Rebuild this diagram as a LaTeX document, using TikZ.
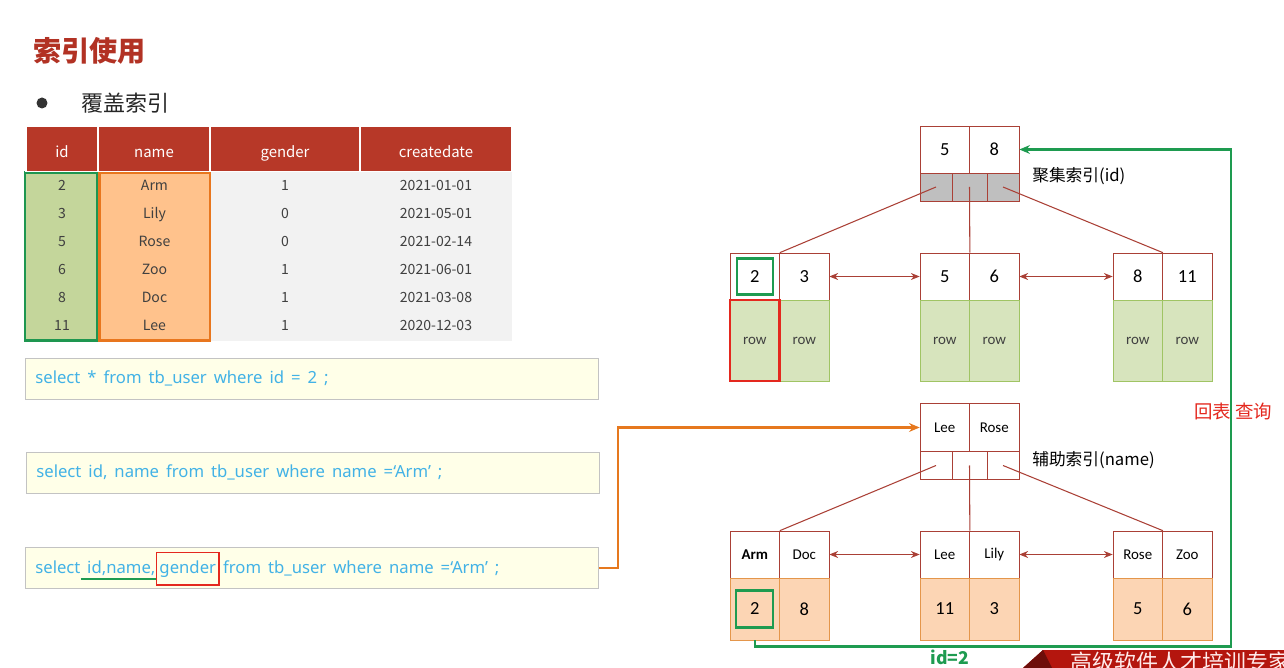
\documentclass[tikz,border=0pt]{standalone}
\usepackage{fontspec}
\setmainfont{Noto Sans CJK SC}
\newfontfamily\calfont{Carlito}
\newfontfamily\sqlfont[WordSpace=1.6]{Noto Sans}
\usetikzlibrary{arrows.meta,positioning}
\definecolor{TitleRed}{RGB}{178,50,36}
\definecolor{HeadRed}{RGB}{183,56,40}
\definecolor{BodyGrey}{RGB}{242,242,242}
\definecolor{TextGrey}{RGB}{64,64,64}
\definecolor{IdFill}{RGB}{196,214,155}
\definecolor{IdEdge}{RGB}{30,150,80}
\definecolor{NameFill}{RGB}{255,194,140}
\definecolor{NameEdge}{RGB}{232,118,30}
\definecolor{SqlFill}{RGB}{255,255,232}
\definecolor{SqlEdge}{RGB}{195,195,195}
\definecolor{SqlBlue}{RGB}{66,178,230}
\definecolor{TreeRed}{RGB}{170,64,54}
\definecolor{PtrGrey}{RGB}{191,191,191}
\definecolor{RowFill}{RGB}{215,228,189}
\definecolor{RowEdge}{RGB}{160,196,100}
\definecolor{ValFill}{RGB}{252,213,180}
\definecolor{ValEdge}{RGB}{228,150,75}
\definecolor{PathGreen}{RGB}{30,155,80}
\definecolor{PathOrange}{RGB}{230,120,30}
\definecolor{MarkRed}{RGB}{228,40,30}
\definecolor{BannerRed}{RGB}{180,22,14}
\definecolor{BannerDark}{RGB}{110,14,10}

\begin{document}
\begin{tikzpicture}[x=0.02cm,y=-0.02cm,
    hd/.style={fill=HeadRed,draw=white,line width=1pt,text=white,
               minimum height=0.9cm,inner sep=0pt,text height=9.5pt,text depth=0pt,
               font=\fontsize{8.5}{10}\selectfont},
    tcell/.style={anchor=base,text=TextGrey,inner sep=0pt,font=\fontsize{8}{10}\selectfont},
    sqlbox/.style={draw=SqlEdge,fill=SqlFill,minimum width=11.46cm,
                   minimum height=0.82cm,inner sep=0pt},
    sqltxt/.style={text=SqlBlue,inner sep=0pt,font=\sqlfont\fontsize{9.5}{11}\selectfont},
    idxkey/.style={draw=TreeRed,fill=white,minimum width=0.99cm,minimum height=0.94cm,
                   inner sep=0pt,font=\calfont\fontsize{10.5}{12}\selectfont},
    namekey/.style={idxkey,font=\calfont\fontsize{8.5}{10}\selectfont},
    ptr/.style={draw=TreeRed,minimum height=0.56cm,inner sep=0pt},
    rowc/.style={draw=RowEdge,fill=RowFill,minimum width=0.99cm,minimum height=1.62cm,
                 inner sep=0pt,text=TextGrey,font=\calfont\fontsize{8.5}{10}\selectfont},
    valc/.style={draw=ValEdge,fill=ValFill,minimum width=0.99cm,minimum height=1.24cm,
                 inner sep=0pt,font=\calfont\fontsize{10.5}{12}\selectfont},
    gbox/.style={draw=PathGreen,line width=1.2pt,minimum size=0.72cm,inner sep=0pt},
    link/.style={TreeRed,semithick},
    dbl/.style={TreeRed,semithick,{Stealth[length=5pt,width=4pt]}-{Stealth[length=5pt,width=4pt]}},
    lbl/.style={anchor=west,inner sep=0pt,font=\fontsize{9.5}{11}\selectfont}
  ]
  \useasboundingbox (0,0) rectangle (1284,668);
  \fill[white] (0,0) rectangle (1284,668);

  % heading
  \node[anchor=west,text=TitleRed,font=\fontsize{16}{18}\selectfont\bfseries] (title) at (27,51) {索引使用};
  \node[circle,fill=black!80,minimum size=0.22cm,inner sep=0pt] (dot) at (42,103) {};
  \node[anchor=west,text=black!85,font=\fontsize{12.5}{15}\selectfont] (sub) at (75,103) {覆盖索引};

  % table tb_user
  \fill[BodyGrey] (210,172) rectangle (512,341);
  \draw[IdEdge,line width=1.2pt,fill=IdFill] (25,172.5) rectangle (97.5,340.5);
  \draw[NameEdge,line width=1.2pt,fill=NameFill] (99.5,172.5) rectangle (210,340.5);
  \node[hd,minimum width=1.43cm] (hid) at (62,149) {id};
  \node[hd,minimum width=2.24cm] (hname) at (154,149) {name};
  \node[hd,minimum width=3.0cm] (hgen) at (285,149) {gender};
  \node[hd,minimum width=3.04cm] (hdate) at (436,149) {createdate};
  \foreach \i/\a/\b/\c/\d in {1/2/Arm/1/2021-01-01,2/3/Lily/0/2021-05-01,
      3/5/Rose/0/2021-02-14,4/6/Zoo/1/2021-06-01,5/8/Doc/1/2021-03-08,6/11/Lee/1/2020-12-03}{
    \node[tcell] (id\i) at (62,{162.7+28*\i}) {\a};
    \node[tcell] (nm\i) at (154.5,{162.7+28*\i}) {\b};
    \node[tcell] (gd\i) at (285,{162.7+28*\i}) {\c};
    \node[tcell] (dt\i) at (436,{162.7+28*\i}) {\d};
  }

  % queries
  \node[sqlbox] (q1) at (311.5,378.5) {};
  \node[sqltxt,anchor=base west] (t1) at (35,383.5) {select * from tb\_user where id = 2 ;};
  \node[sqlbox] (q2) at (312.5,472.5) {};
  \node[sqltxt,anchor=base west] (t2) at (36,477.5) {select id, name from tb\_user where name =‘Arm’ ;};
  \node[sqlbox] (q3) at (312,568) {};
  \node[sqltxt,anchor=base west] (t3a) at (35,573) {select};
  \node[sqltxt,right=0.12cm of t3a.base east,anchor=base west] (t3b) {id,name,};
  \node[sqltxt,draw=MarkRed,thick,inner xsep=0.06cm,inner ysep=0.16cm,
        right=0pt of t3b.base east,anchor=base west] (t3c) {gender};
  \node[sqltxt,right=0.06cm of t3c.base east,anchor=base west] (t3d) {from tb\_user where name =‘Arm’ ;};
  \draw[PathGreen,line width=1.2pt] ([xshift=-0.12cm,yshift=-0.12cm]t3b.base west)
    -- ([yshift=-0.12cm]t3b.base east);

  % clustered index (id)
  \node[idxkey] (ca) at (944.75,149.5) {5};
  \node[idxkey] (cb) at (994.25,149.5) {8};
  \node[ptr,fill=PtrGrey,minimum width=0.64cm] (cp1) at (936,187) {};
  \node[ptr,fill=PtrGrey,minimum width=0.70cm] (cp2) at (969.5,187) {};
  \node[ptr,fill=PtrGrey,minimum width=0.64cm] (cp3) at (1003,187) {};
  \node[lbl] (clbl) at (1032,176) {聚集索引(id)};

  \node[idxkey] (l1a) at (754.75,276.5) {2};
  \node[idxkey] (l1b) at (804.25,276.5) {3};
  \node[idxkey] (l2a) at (944.75,276.5) {5};
  \node[idxkey] (l2b) at (994.25,276.5) {6};
  \node[idxkey] (l3a) at (1137.75,276.5) {8};
  \node[idxkey] (l3b) at (1187.25,276.5) {11};
  \node[rowc] (r1a) at (754.75,340.5) {row};
  \node[rowc] (r1b) at (804.25,340.5) {row};
  \node[rowc] (r2a) at (944.75,340.5) {row};
  \node[rowc] (r2b) at (994.25,340.5) {row};
  \node[rowc] (r3a) at (1137.75,340.5) {row};
  \node[rowc] (r3b) at (1187.25,340.5) {row};
  \node[draw=MarkRed,line width=1.3pt,minimum width=0.99cm,minimum height=1.62cm] (rsel) at (r1a) {};
  \node[gbox] (g1) at (l1a) {};

  \draw[link] (cp1.center) -- (l1a.north east);
  \draw[link] (cp2.center) -- (l2a.north east);
  \draw[link] (cp3.center) -- (l3a.north east);
  \draw[dbl] (l1b.east) -- (l2a.west);
  \draw[dbl] (l2b.east) -- (l3a.west);

  % secondary index (name)
  \node[namekey,minimum height=0.96cm] (sa) at (944.75,427.5) {Lee};
  \node[namekey,minimum height=0.96cm] (sb) at (994.25,427.5) {Rose};
  \node[ptr,fill=white,minimum width=0.64cm] (sp1) at (936,465.5) {};
  \node[ptr,fill=white,minimum width=0.70cm] (sp2) at (969.5,465.5) {};
  \node[ptr,fill=white,minimum width=0.64cm] (sp3) at (1003,465.5) {};
  \node[lbl] (slbl) at (1032,460) {辅助索引(name)};

  \node[namekey,font=\calfont\bfseries\fontsize{8.5}{10}\selectfont] (m1a) at (754.75,554.5) {Arm};
  \node[namekey] (m1b) at (804.25,554.5) {Doc};
  \node[namekey] (m2a) at (944.75,554.5) {Lee};
  \node[namekey] (m2b) at (994.25,554.5) {Lily};
  \node[namekey] (m3a) at (1137.75,554.5) {Rose};
  \node[namekey] (m3b) at (1187.25,554.5) {Zoo};
  \node[valc] (v1a) at (754.75,609) {2};
  \node[valc] (v1b) at (804.25,609) {8};
  \node[valc] (v2a) at (944.75,609) {11};
  \node[valc] (v2b) at (994.25,609) {3};
  \node[valc] (v3a) at (1137.75,609) {5};
  \node[valc] (v3b) at (1187.25,609) {6};
  \node[gbox,minimum size=0.74cm] (g2) at (v1a) {};

  \draw[link] (sp1.center) -- (m1a.north east);
  \draw[link] (sp2.center) -- (m2a.north east);
  \draw[link] (sp3.center) -- (m3a.north east);
  \draw[dbl] (m1b.east) -- (m2a.west);
  \draw[dbl] (m2b.east) -- (m3a.west);

  % lookup paths
  \draw[PathOrange,line width=1.2pt,-{Stealth[length=6pt,width=5pt]}]
    (q3.east) -- ++(19,0) |- (sa.west);
  \coordinate (gturn) at (1231,646.5);
  \draw[PathGreen,line width=1.2pt,-{Stealth[length=6pt,width=5pt]}]
    (v1a.south) |- (gturn) |- (cb.east);
  \node[text=PathGreen,font=\fontsize{10}{12}\selectfont\bfseries] (idlbl) at (950,657) {id=2};
  \node[text=MarkRed,font=\fontsize{10.5}{12}\selectfont] (back) at (1233,411.5) {回表 查询};

  % banner
  \begin{scope}
    \clip (0,0) rectangle (1284,668);
    \fill[BannerRed] (1023,668) -- (1043,650) -- (1284,650) -- (1284,680) -- (1023,680) -- cycle;
    \fill[BannerDark] (1023,668) -- (1043,650) -- (1052,668) -- cycle;
    \node[anchor=north west,inner sep=0pt,text=white!92!red,font=\fontsize{12.5}{15}\selectfont] (brand) at (1070,652) {高级软件人才培训专家};
  \end{scope}
\end{tikzpicture}
\end{document}
